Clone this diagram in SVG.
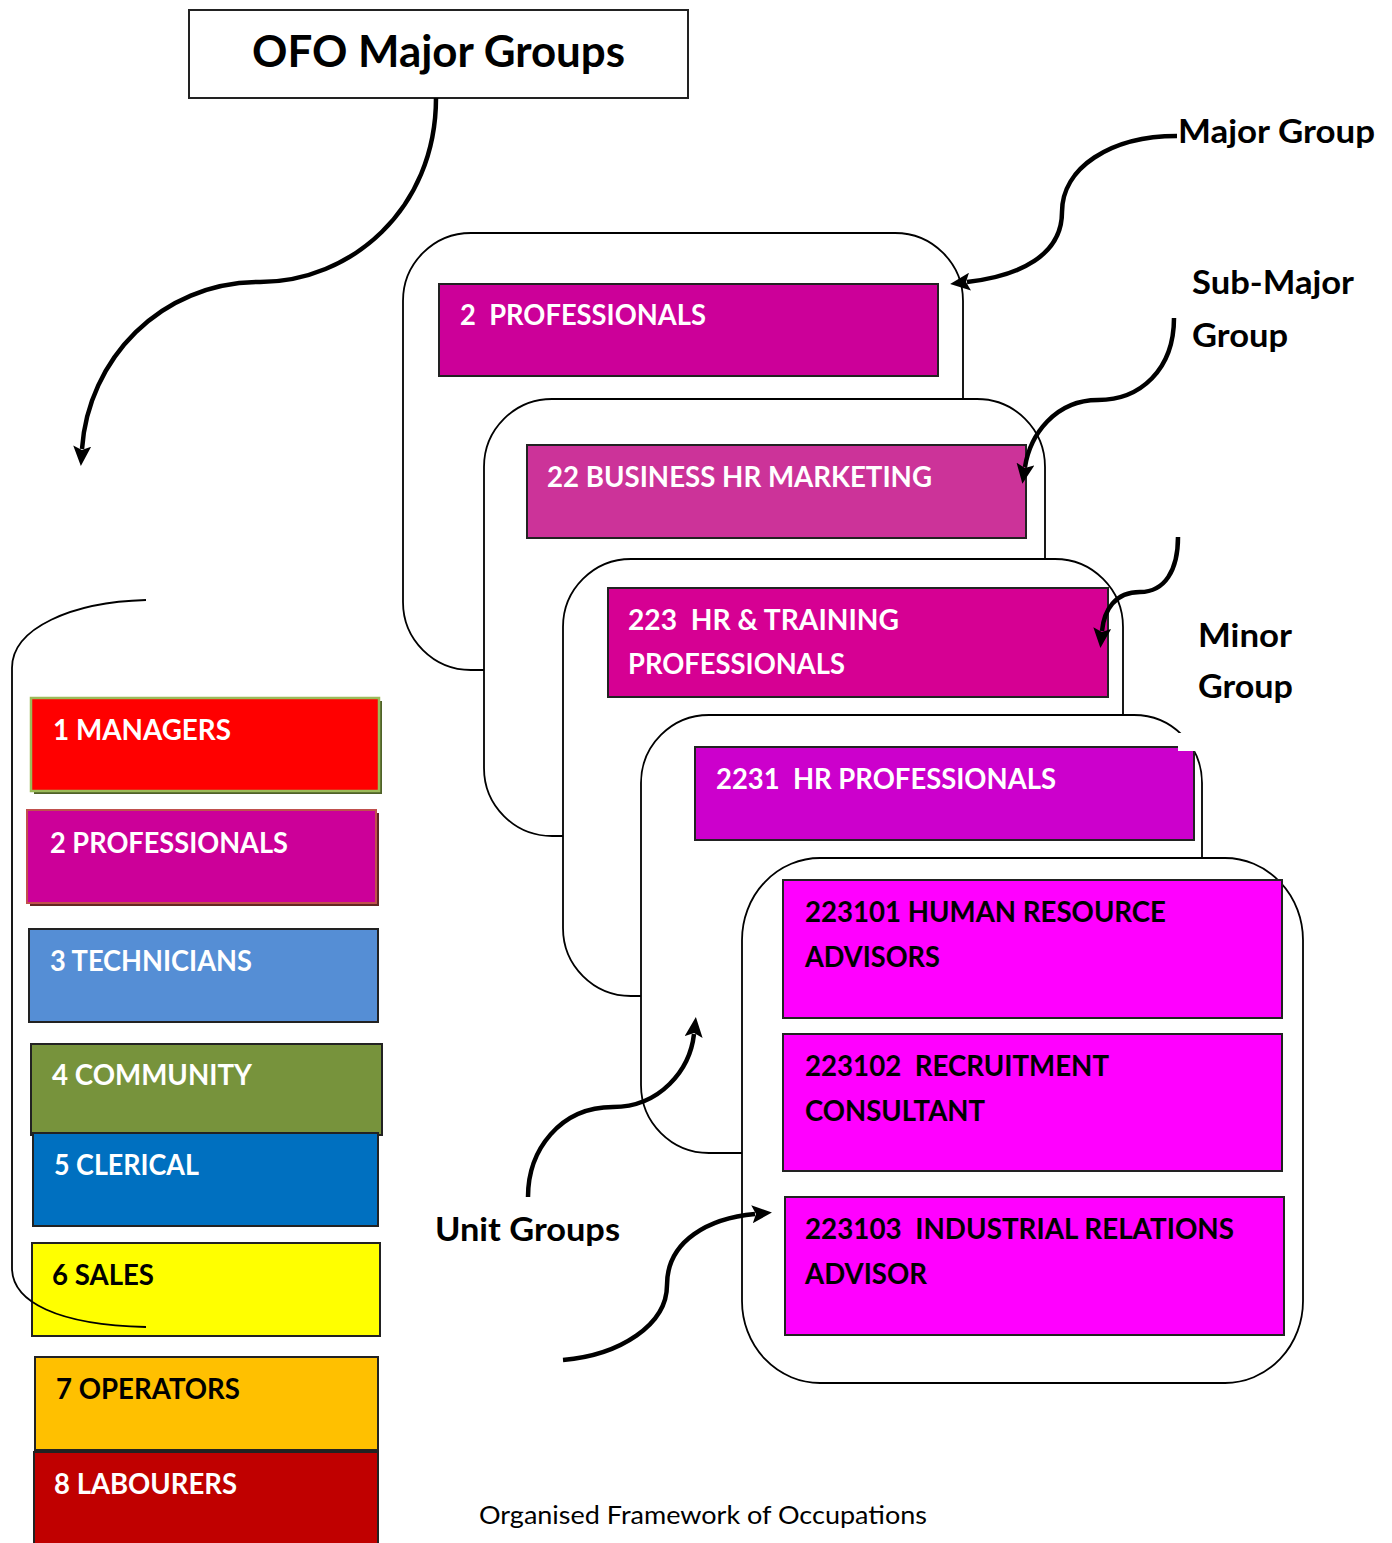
<svg xmlns="http://www.w3.org/2000/svg" width="1392" height="1543" viewBox="0 0 1392 1543">
  <style>
    .lbl { font-family: "Lato", "Open Sans", "Liberation Sans", sans-serif; font-weight: 700; font-size: 28px; white-space: pre; }
    .w { fill: #ffffff; }
    .k { fill: #000000; }
    .side { font-family: "Lato", "Open Sans", "Liberation Sans", sans-serif; font-weight: 700; font-size: 32px; fill: #000; }
    .card { fill: #ffffff; stroke: #000; stroke-width: 1.8; }
    .box { stroke: #222; stroke-width: 2; }
    .arrow { fill: none; stroke: #000; stroke-width: 4.5; marker-end: url(#head); }
    .bracket { fill: none; stroke: #000; stroke-width: 1.8; }
  </style>
  <defs>
    <marker id="head" viewBox="0 0 20 18" markerUnits="userSpaceOnUse" markerWidth="20" markerHeight="18" refX="3" refY="9" orient="auto">
      <path d="M0,0 L20,9 L0,18 L4,9 z" fill="#000"/>
    </marker>
  </defs>

  <rect width="1392" height="1543" fill="#ffffff"/>

  <!-- title -->
  <g id="title">
    <rect x="189" y="10" width="499" height="88" fill="#fff" stroke="#222" stroke-width="2"/>
    <text x="252" y="67" font-family="Lato, 'Open Sans', sans-serif" font-weight="700" font-size="44" textLength="373" lengthAdjust="spacingAndGlyphs">OFO Major Groups</text>
  </g>

  <!-- major group list -->
  <g id="mg1">
    <rect x="34" y="701" width="348" height="93" fill="#4F6228"/>
    <rect x="31" y="698" width="348" height="93" fill="#FF0000" stroke="#9BBB59" stroke-width="2.5"/>
    <text class="lbl w" x="53" y="740" textLength="178" lengthAdjust="spacingAndGlyphs">1 MANAGERS</text>
  </g>
  <g id="mg2">
    <rect x="30" y="813" width="349" height="93" fill="#632523"/>
    <rect x="27" y="810" width="349" height="93" fill="#CC0099" stroke="#C0504D" stroke-width="2"/>
    <text class="lbl w" x="50" y="853" textLength="238" lengthAdjust="spacingAndGlyphs">2 PROFESSIONALS</text>
  </g>
  <g id="mg3">
    <rect class="box" x="29" y="929" width="349" height="93" fill="#558ED5"/>
    <text class="lbl w" x="50" y="971" textLength="202" lengthAdjust="spacingAndGlyphs">3 TECHNICIANS</text>
  </g>
  <g id="mg4">
    <rect class="box" x="31" y="1044" width="351" height="91" fill="#77933C"/>
    <text class="lbl w" x="52" y="1085" textLength="200" lengthAdjust="spacingAndGlyphs">4 COMMUNITY</text>
  </g>
  <g id="mg5">
    <rect class="box" x="33" y="1133" width="345" height="93" fill="#0070C0"/>
    <text class="lbl w" x="54" y="1175" textLength="145" lengthAdjust="spacingAndGlyphs">5 CLERICAL</text>
  </g>
  <g id="mg6">
    <rect class="box" x="32" y="1243" width="348" height="93" fill="#FFFF00"/>
    <text class="lbl k" x="52" y="1285" textLength="102" lengthAdjust="spacingAndGlyphs">6 SALES</text>
  </g>
  <g id="mg7">
    <rect class="box" x="35" y="1357" width="343" height="93" fill="#FFC000"/>
    <text class="lbl k" x="56" y="1399" textLength="184" lengthAdjust="spacingAndGlyphs">7 OPERATORS</text>
  </g>
  <g id="mg8">
    <rect class="box" x="34" y="1452" width="344" height="100" fill="#C00000"/>
    <text class="lbl w" x="54" y="1494" textLength="183" lengthAdjust="spacingAndGlyphs">8 LABOURERS</text>
  </g>

  <!-- bracket around the list -->
  <g id="bracket">
    <path class="bracket" d="M146,600 C72,602 12,628 12,668 L12,1268 C12,1302 58,1325 146,1327"/>
  </g>

  <!-- nested hierarchy cards -->
  <g id="card-major">
    <rect class="card" x="403" y="233" width="560" height="437" rx="68" ry="68"/>
    <rect class="box" x="439" y="284" width="499" height="92" fill="#CC0099"/>
    <text class="lbl w" x="460" y="325" textLength="246" lengthAdjust="spacingAndGlyphs">2  PROFESSIONALS</text>
  </g>
  <g id="card-submajor">
    <rect class="card" x="484" y="399" width="561" height="437" rx="68" ry="68"/>
    <rect class="box" x="527" y="445" width="499" height="93" fill="#CC3399"/>
    <text class="lbl w" x="547" y="487" textLength="385" lengthAdjust="spacingAndGlyphs">22 BUSINESS HR MARKETING</text>
  </g>
  <g id="card-minor">
    <rect class="card" x="563" y="559" width="560" height="437" rx="68" ry="68"/>
    <rect class="box" x="608" y="588" width="500" height="109" fill="#D60093"/>
    <text class="lbl w" x="628" y="630" textLength="271" lengthAdjust="spacingAndGlyphs">223  HR &amp; TRAINING</text>
    <text class="lbl w" x="628" y="674" textLength="217" lengthAdjust="spacingAndGlyphs">PROFESSIONALS</text>
  </g>
  <g id="card-unit">
    <rect class="card" x="641" y="715" width="561" height="438" rx="68" ry="68"/>
    <rect class="box" x="695" y="747" width="499" height="93" fill="#CC00CC"/>
    <text class="lbl w" x="716" y="789" textLength="340" lengthAdjust="spacingAndGlyphs">2231  HR PROFESSIONALS</text>
    <rect x="1178" y="733" width="18" height="18" fill="#ffffff"/>
  </g>
  <g id="card-occupations">
    <rect class="card" x="742" y="858" width="561" height="525" rx="78" ry="82"/>
    <g id="occ-223101">
      <rect class="box" x="783" y="880" width="499" height="138" fill="#FF00FF"/>
      <text class="lbl k" x="805" y="922" textLength="361" lengthAdjust="spacingAndGlyphs">223101 HUMAN RESOURCE</text>
      <text class="lbl k" x="805" y="967" textLength="135" lengthAdjust="spacingAndGlyphs">ADVISORS</text>
    </g>
    <g id="occ-223102">
      <rect class="box" x="783" y="1034" width="499" height="137" fill="#FF00FF"/>
      <text class="lbl k" x="805" y="1076" textLength="304" lengthAdjust="spacingAndGlyphs">223102  RECRUITMENT</text>
      <text class="lbl k" x="805" y="1121" textLength="180" lengthAdjust="spacingAndGlyphs">CONSULTANT</text>
    </g>
    <g id="occ-223103">
      <rect class="box" x="785" y="1197" width="499" height="138" fill="#FF00FF"/>
      <text class="lbl k" x="805" y="1239" textLength="429" lengthAdjust="spacingAndGlyphs">223103  INDUSTRIAL RELATIONS</text>
      <text class="lbl k" x="805" y="1284" textLength="122" lengthAdjust="spacingAndGlyphs">ADVISOR</text>
    </g>
  </g>

  <!-- level labels -->
  <g id="labels">
    <text class="side" x="1178" y="143" textLength="197" lengthAdjust="spacingAndGlyphs">Major Group</text>
    <text class="side" x="1192" y="294" textLength="162" lengthAdjust="spacingAndGlyphs">Sub-Major</text>
    <text class="side" x="1192" y="347" textLength="96" lengthAdjust="spacingAndGlyphs">Group</text>
    <text class="side" x="1198" y="647" textLength="94" lengthAdjust="spacingAndGlyphs">Minor</text>
    <text class="side" x="1198" y="698" textLength="95" lengthAdjust="spacingAndGlyphs">Group</text>
    <text class="side" x="435" y="1241" textLength="185" lengthAdjust="spacingAndGlyphs">Unit Groups</text>
  </g>

  <!-- connectors -->
  <g id="connectors">
    <path class="arrow" d="M436,98 C436,210 350,282 260,282 C160,282 88,360 82,449"/>
    <path class="arrow" d="M1177,136 C1110,136 1062,168 1062,212 C1062,255 1020,276 967,282"/>
    <path class="arrow" d="M1174,318 C1174,370 1140,400 1098,400 C1055,400 1030,435 1025,467"/>
    <path class="arrow" d="M1178,537 C1178,570 1165,592 1140,592 C1115,592 1104,610 1102,631"/>
    <path class="arrow" d="M528,1197 C528,1150 560,1107 613,1107 C660,1107 690,1070 694,1034"/>
    <path class="arrow" d="M563,1360 C620,1355 667,1325 667,1285 C667,1240 710,1218 755,1214"/>
  </g>

  <text x="479" y="1524" font-family="Lato, 'Open Sans', sans-serif" font-size="25" fill="#000" textLength="448" lengthAdjust="spacingAndGlyphs">Organised Framework of Occupations</text>
</svg>
